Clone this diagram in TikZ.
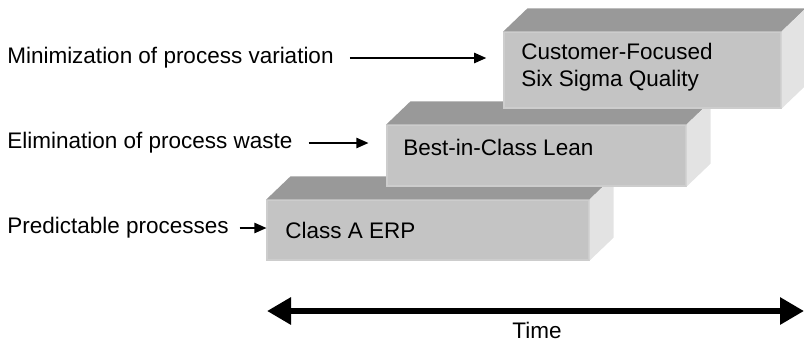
\documentclass[tikz,border=0pt]{standalone}
\usepackage{fontspec}
\setmainfont{Liberation Sans}
\usetikzlibrary{arrows.meta}

\definecolor{frontgray}{rgb}{.77,.77,.77}
\definecolor{topgray}{rgb}{.6,.6,.6}
\definecolor{sidegray}{rgb}{.89,.89,.89}

% top and side faces of a slab, behind its front node
\newcommand{\slabfaces}[1]{%
	\fill[topgray] (#1.north west) -- ++(24,-23) -- ([shift={(24,-23)}]#1.north east) -- (#1.north east) -- cycle;
	\fill[sidegray] (#1.north east) -- ++(24,-23) -- ([shift={(24,-23)}]#1.south east) -- (#1.south east) -- cycle;
}

\begin{document}
\begin{tikzpicture}[x=.25mm, y=-.25mm, font=\fontsize{16}{19}\selectfont,
	slab/.style={fill=frontgray, draw=frontgray!85!white, line width=.3mm, inner sep=0pt},
	steptext/.style={anchor=west, align=left, inner sep=0pt},
	goal/.style={anchor=west, inner sep=0pt},
	ptr/.style={-{Triangle[length=3mm, width=2.6mm]}, line width=.3mm},
	timeline/.style={{Triangle[length=6mm, width=6.5mm]}-{Triangle[length=6mm, width=6.5mm]}, line width=1.5mm}]
	\useasboundingbox (0,0) rectangle (804,342);

	\node[slab, minimum width=80.5mm, minimum height=15mm] (erp) at (428,230) {};
	\slabfaces{erp}
	\node[steptext] (erptext) at (285,230) {Class A ERP};

	\node[slab, minimum width=74.75mm, minimum height=15.25mm] (lean) at (536.5,155.5) {};
	\slabfaces{lean}
	\node[steptext] (leantext) at (403,147) {Best-in-Class Lean};

	\node[slab, minimum width=69.25mm, minimum height=19mm] (sigma) at (642.5,70) {};
	\slabfaces{sigma}
	\node[steptext] (sigmatext) at (521,67) {Customer-Focused\\Six Sigma Quality};

	\node[goal] (variation) at (7,58) {Minimization of process variation};
	\node[goal] (waste) at (7,143) {Elimination of process waste};
	\node[goal] (predict) at (7,228) {Predictable processes};

	\draw[ptr, shorten <=4mm, shorten >=4.3mm] (variation.east) -- (sigma.west |- variation.east);
	\draw[ptr, shorten <=4mm, shorten >=4.5mm] (waste.east) -- (lean.west |- waste.east);
	\draw[ptr, shorten <=2.7mm] (predict.east) -- (erp.west |- predict.east);

	\coordinate (tstart) at (267,311);
	\coordinate (tend) at (804,311);
	\draw[timeline] (tstart) -- (tend);
	\node (time) at (537,330) {Time};
\end{tikzpicture}
\end{document}
